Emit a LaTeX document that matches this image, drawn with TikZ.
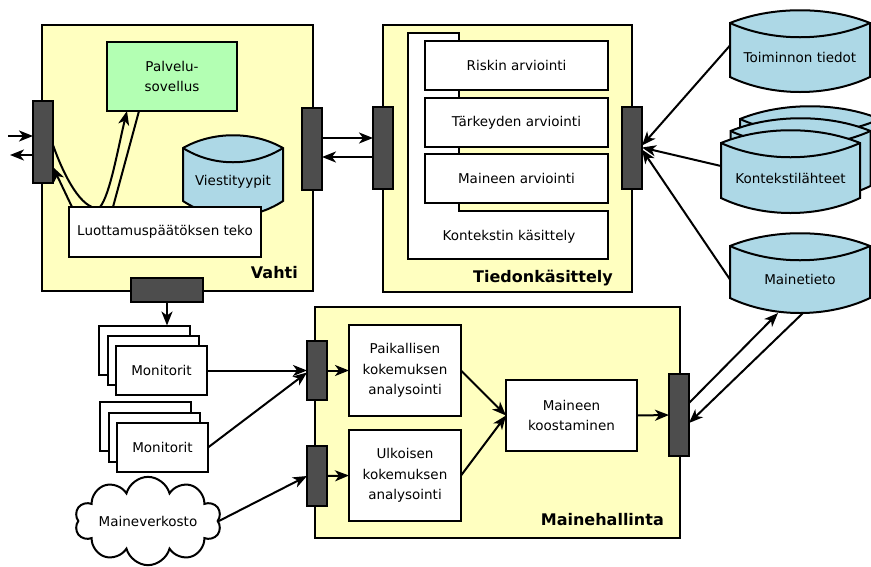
\documentclass[tikz,border=0pt]{standalone}
\usepackage{fontspec}
\setmainfont{DejaVu Sans}
\usetikzlibrary{shapes.symbols,arrows.meta,positioning,calc}
\definecolor{boxyellow}{HTML}{FFFFC0}
\definecolor{portgray}{HTML}{4D4D4D}
\definecolor{storeblue}{HTML}{ADD8E6}
\definecolor{appgreen}{HTML}{B3FFB3}

% data store: name, left, top, width, height, text
\newcommand{\datastore}[6]{%
    \draw[storeline] (#2,#3+13) .. controls (#2+0.3*#4,#3-4) and (#2+0.7*#4,#3-4) .. (#2+#4,#3+13)
        -- (#2+#4,#3+#5-15) .. controls (#2+0.7*#4,#3+#5+5) and (#2+0.3*#4,#3+#5+5) .. (#2,#3+#5-15) -- cycle;
    \draw[storeline, fill=none] (#2,#3+13) .. controls (#2+0.3*#4,#3+32) and (#2+0.7*#4,#3+32) .. (#2+#4,#3+13);
    \node[storetext, minimum width=#4 pt, minimum height={(#5-13)*1pt}] (#1) at (#2+#4/2,#3+6.5+#5/2) {#6};
}

\begin{document}
\begin{tikzpicture}[x=1pt, y=-1pt, node distance=7pt,
        font=\fontsize{13.5}{20.5}\selectfont,
        group/.style={rectangle, draw, line width=2pt, fill=boxyellow, inner sep=0pt, outer sep=0pt},
        grouplabel/.style={font=\fontsize{16}{19}\selectfont\bfseries, inner sep=0pt, anchor=base east},
        port/.style={rectangle, draw, line width=2pt, fill=portgray, minimum width=20pt, minimum height=82pt, inner sep=0pt, outer sep=0pt},
        block/.style={rectangle, draw, line width=2pt, fill=white, align=center, inner sep=0pt, outer sep=0pt},
        evalbox/.style={block, minimum width=183pt, minimum height=49pt},
        monitor/.style={block, minimum width=91pt, minimum height=49pt},
        storeline/.style={draw, line width=2pt, fill=storeblue},
        storetext/.style={rectangle, inner sep=0pt, outer sep=0pt},
        arrow/.style={-{Stealth[length=14pt, width=11pt, inset=4pt]}, line width=2pt},
        link/.style={line width=2pt}]

    \useasboundingbox (0,0) rectangle (871,566);

    % Groups
    \node[group, minimum width=271pt, minimum height=266pt] (vahti) at (177.5,158) {};
    \node[group, minimum width=249pt, minimum height=267pt] (tieto) at (507.5,158.5) {};
    \node[group, minimum width=365pt, minimum height=231pt] (maine) at (497.5,422.5) {};
    \node[grouplabel] at ([xshift=-15pt, yshift=13pt]vahti.south east) {Vahti};
    \node[grouplabel] at ([xshift=-19pt, yshift=10pt]tieto.south east) {Tiedonkäsittely};
    \node[grouplabel] at ([xshift=-16pt, yshift=13pt]maine.south east) {Mainehallinta};

    % Vahti
    \node[block, fill=appgreen, minimum width=130pt, minimum height=69pt] (palvelu) at (172,76.5) {Palvelu-\\sovellus};
    \datastore{viestit}{183}{135}{100}{81}{Viestityypit}
    \node[block, minimum width=192pt, minimum height=50pt] (luotto) at (165,232) {Luottamuspäätöksen teko};

    % Tiedonkasittely
    \draw[line width=2pt, fill=white] (408,33) -- (459,33) -- (459,211) -- (608,211) -- (608,259) -- (408,259) -- cycle;
    \node (kasittely) at (509,237) {Kontekstin käsittely};
    \node[evalbox] (riski) at (516.5,65.5) {Riskin arviointi};
    \node[evalbox, below=8pt of riski] (tarkeys) {Tärkeyden arviointi};
    \node[evalbox, below=of tarkeys] (maineenarv) {Maineen arviointi};

    % Mainehallinta
    \node[block, minimum width=112pt, minimum height=91pt] (paikallinen) at (405,370.5) {Paikallisen\\kokemuksen\\analysointi};
    \node[block, minimum width=112pt, minimum height=91pt, below=14pt of paikallinen] (ulkoinen) {Ulkoisen\\kokemuksen\\analysointi};
    \node[block, minimum width=131pt, minimum height=71pt] (koostaminen) at (571.5,415.5) {Maineen\\koostaminen};

    % Ports
    \node[port] (vport1) at (43,142) {};
    \node[port] (vport2) at (312,149) {};
    \node[port, minimum width=72pt, minimum height=24pt] (vport3) at (167,290) {};
    \node[port] (tport1) at (383,148) {};
    \node[port] (tport2) at (632,147.5) {};
    \node[port, minimum height=59pt] (mport1) at (317,370.5) {};
    \node[port, minimum height=60pt] (mport2) at (317,476) {};
    \node[port] (mport3) at (679,415) {};

    % Stores
    \datastore{toiminto}{730}{10}{140}{82}{Toiminnon tiedot}
    \datastore{konteksti3}{740}{106}{140}{83}{}
    \datastore{konteksti2}{730.5}{118}{140}{83}{}
    \datastore{konteksti}{721}{130}{139}{83}{Kontekstilähteet}
    \datastore{mainetieto}{730}{233}{140}{80}{Mainetieto}

    % Monitors and network
    \node[monitor] (mon1c) at (144,350) {};
    \node[monitor] (mon1b) at (153,360) {};
    \node[monitor] (mon1) at (161.5,370.5) {Monitorit};
    \node[monitor] (mon2c) at (145,426.5) {};
    \node[monitor] (mon2b) at (154,437) {};
    \node[monitor] (mon2) at (162.5,447.5) {Monitorit};
    \node[cloud, draw, line width=2pt, fill=white, cloud puffs=10, aspect=2.4, minimum width=136pt, minimum height=46pt, inner sep=0pt] (verkosto) at (148,521) {Maineverkosto};

    % Connections
    \coordinate (ulkoa) at (8,136);
    \coordinate (ulos) at (10,155);
    \draw[arrow] (ulkoa) -- (ulkoa -| vport1.west);
    \draw[arrow] (ulos -| vport1.west) -- (ulos);
    \draw[link] ([yshift=-3pt]vport1.east) .. controls +(7,20) and +(-17,-7) .. ([xshift=23pt]luotto.north west);
    \draw[arrow] ([xshift=3pt]luotto.north west) -- ([yshift=-25pt]vport1.east);
    \draw[arrow] ([xshift=31pt]luotto.north west) .. controls +(10,-12) and +(-9,37) .. ([xshift=-45pt]palvelu.south);
    \draw[link] ([xshift=-33pt]palvelu.south) -- ([xshift=44pt]luotto.north west);
    \draw[arrow] ([yshift=11pt]vport2.east) -- ([yshift=11pt]vport2.east -| tport1.west);
    \draw[arrow] ([yshift=-9pt]tport1.west) -- ([yshift=-9pt]tport1.west -| vport2.east);
    \draw[arrow] ([yshift=12pt]toiminto.west) -- ([yshift=2pt]tport2.east);
    \draw[arrow] ([yshift=12pt]konteksti.west) -- (tport2.east);
    \draw[arrow] (mainetieto.west) -- ([yshift=-2pt]tport2.east);
    \draw[arrow] (vport3.south) -- (vport3.south |- mon1c.north);
    \draw[arrow] (mon1.east) -- (mport1.west);
    \draw[arrow] (mon2.east) -- ([yshift=-2pt]mport1.west);
    \draw[arrow] (verkosto.east) -- (mport2.west);
    \draw[arrow] (mport1.east) -- (paikallinen.west);
    \draw[arrow] (mport2.east) -- (ulkoinen.west);
    \draw[arrow] (paikallinen.east) -- (koostaminen.west);
    \draw[arrow] (ulkoinen.east) -- (koostaminen.west);
    \draw[arrow] (koostaminen.east) -- (mport3.west);
    \draw[arrow] ([yshift=12pt]mport3.east) -- ([xshift=-22pt]mainetieto.south);
    \draw[arrow] ([xshift=3pt]mainetieto.south) -- ([yshift=-8pt]mport3.east);
\end{tikzpicture}
\end{document}
